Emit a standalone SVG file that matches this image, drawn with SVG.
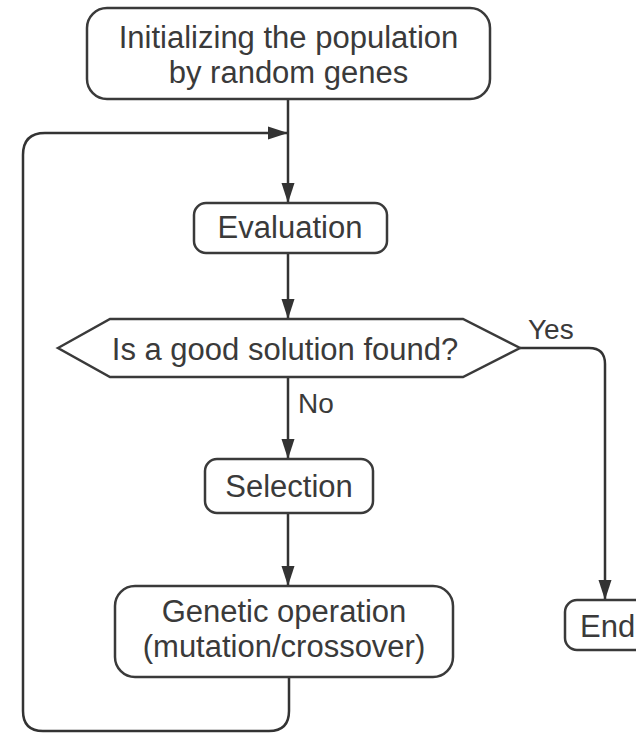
<svg xmlns="http://www.w3.org/2000/svg" width="636" height="734" viewBox="0 0 636 734">
<defs>
<marker id="arr" markerUnits="userSpaceOnUse" markerWidth="22" markerHeight="14" refX="20" refY="7" orient="auto">
<path d="M0,0.5 L20,7 L0,13.5 Z" fill="#333"/>
</marker>
<style>
.box{fill:#fff;stroke:#3a3a3a;stroke-width:2.5}
.t{font-family:"Liberation Sans",Arial,sans-serif;font-size:31px;fill:#3a3a3a;text-anchor:middle}
.lbl{font-family:"Liberation Sans",Arial,sans-serif;font-size:28px;fill:#3a3a3a}
.c{fill:none;stroke:#333;stroke-width:2.5}
</style>
</defs>
<rect width="636" height="734" fill="#fff"/>
<g id="connectors">
<line class="c" x1="288" y1="99" x2="288" y2="203" marker-end="url(#arr)"/>
<path class="c" d="M289,677 L289,711 Q289,731 269,731 L43,731 Q23,731 23,711 L23,155 Q23,133 45,133 L288,133" marker-end="url(#arr)"/>
<line class="c" x1="288" y1="253" x2="288" y2="319" marker-end="url(#arr)"/>
<line class="c" x1="288" y1="377" x2="288" y2="459" marker-end="url(#arr)"/>
<line class="c" x1="288" y1="513" x2="288" y2="586" marker-end="url(#arr)"/>
<path class="c" d="M520,348 L589,348 Q605,348 605,364 L605,600" marker-end="url(#arr)"/>
<text class="lbl" x="528" y="339">Yes</text>
<text class="lbl" x="298" y="413">No</text>
</g>
<g id="init">
<rect class="box" x="87" y="8" width="403" height="91" rx="20"/>
<text class="t" x="288.5" y="48">Initializing the population</text>
<text class="t" x="288.5" y="83">by random genes</text>
</g>
<g id="evaluation">
<rect class="box" x="194" y="203" width="193" height="50" rx="12"/>
<text class="t" x="290" y="238">Evaluation</text>
</g>
<g id="decision">
<polygon class="box" points="58,348 110,319 463,319 520,348 463,377 110,377"/>
<text class="t" x="285" y="360">Is a good solution found?</text>
</g>
<g id="selection">
<rect class="box" x="205" y="459" width="168" height="54" rx="12"/>
<text class="t" x="289" y="497">Selection</text>
</g>
<g id="genetic">
<rect class="box" x="115" y="586" width="338" height="91" rx="20"/>
<text class="t" x="284" y="622">Genetic operation</text>
<text class="t" x="284" y="657">(mutation/crossover)</text>
</g>
<g id="end">
<rect class="box" x="565" y="600" width="100" height="50" rx="12"/>
<text class="t" x="580" y="637" style="text-anchor:start">End</text>
</g>
</svg>
